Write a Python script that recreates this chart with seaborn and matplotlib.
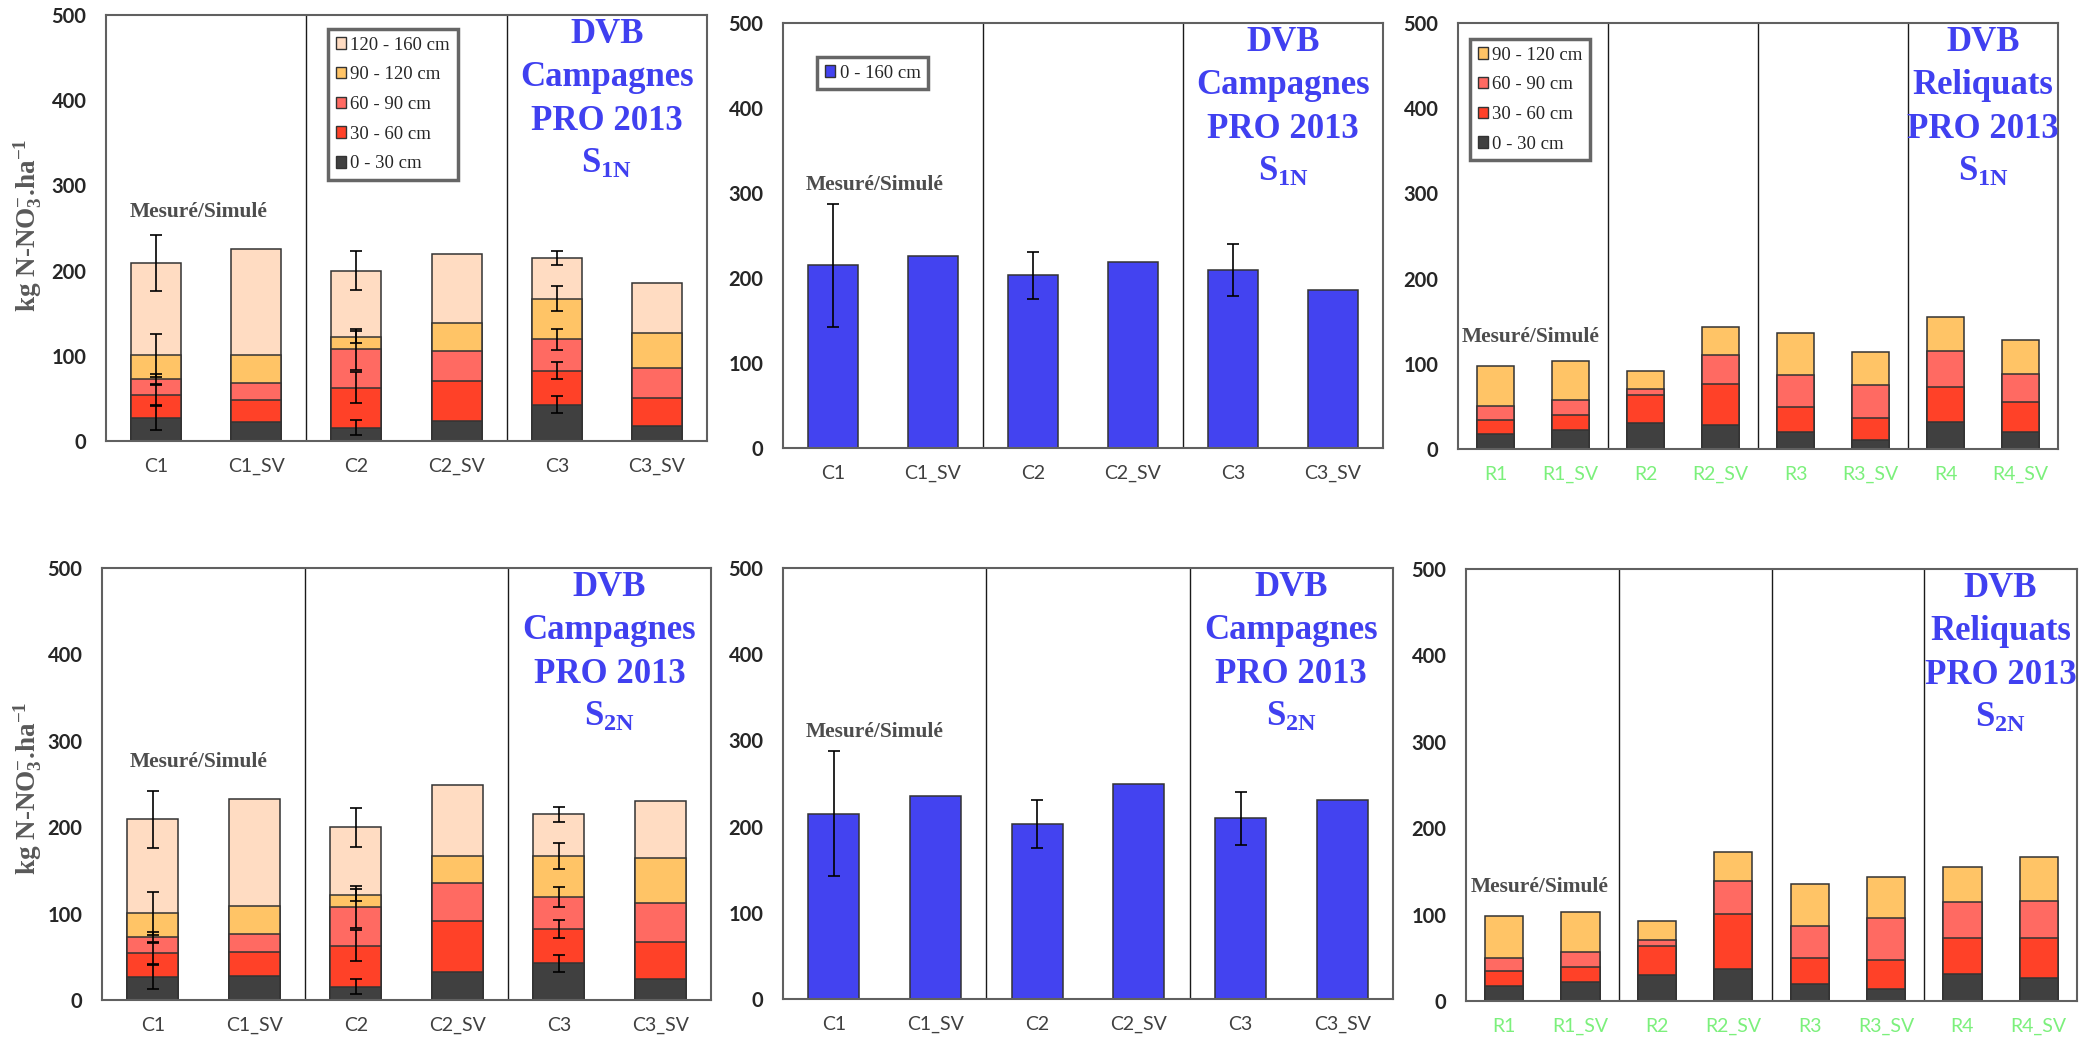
import numpy as np
import matplotlib
matplotlib.use("Agg")
import matplotlib.pyplot as plt
from matplotlib.patches import Patch
import seaborn as sns

sns.set_style("white")
plt.rcParams["font.family"] = ["Lato", "DejaVu Sans"]
plt.rcParams["mathtext.fontset"] = "custom"
plt.rcParams["mathtext.rm"] = "Liberation Serif:bold"
plt.rcParams["mathtext.bf"] = "Liberation Serif:bold"
plt.rcParams["mathtext.it"] = "Liberation Serif:bold"

# ---- Données ----
CAMP_CATS = ["C1", "C1_SV", "C2", "C2_SV", "C3", "C3_SV"]
RELIQ_CATS = ["R1", "R1_SV", "R2", "R2_SV", "R3", "R3_SV", "R4", "R4_SV"]
LAYERS = ["0 - 30 cm", "30 - 60 cm", "60 - 90 cm", "90 - 120 cm", "120 - 160 cm"]
LAYER_COLORS = ["#404040", "#FF4128", "#FF6A62", "#FFC466", "#FFDCC2"]
BLUE = "#4343F0"
MEAS_IDX_CAMP = [0, 2, 4]

# Campagnes : une liste par horizon (du bas vers le haut), kg N-NO3/ha
camp_s1n = [
    [26.6, 22.7, 15.6, 23.9, 42.3, 17.6],
    [27.4, 25.3, 47.0, 46.5, 39.9, 33.3],
    [18.8, 19.7, 45.0, 35.6, 37.1, 34.4],
    [27.7, 32.8, 14.1, 32.0, 47.7, 41.1],
    [108.8, 125.2, 78.3, 81.0, 47.8, 59.4],
]
camp_s2n = [
    [26.6, 28.1, 15.6, 32.0, 42.3, 23.9],
    [27.4, 27.8, 47.0, 59.7, 39.9, 43.6],
    [18.8, 20.0, 45.0, 44.0, 37.1, 45.1],
    [27.7, 32.8, 14.1, 31.3, 47.7, 52.0],
    [108.8, 124.5, 78.3, 82.4, 47.8, 65.9],
]
# écarts-types des mesures (C1, C2, C3) par horizon
camp_err = [
    [14, 9, 10],
    [12, 18, 10],
    [6, 24, 12],
    [25, 7, 15],
    [33, 22.5, 8.6],
]

# Total 0 - 160 cm
tot_s1n = [215.0, 225.5, 203.0, 218.8, 209.4, 185.9]
tot_s2n = [215.0, 235.0, 203.0, 249.8, 209.4, 230.9]
tot_err = [72.5, 28, 31]

# Reliquats : 4 horizons (0-30 ... 90-120)
reliq_s1n = [
    [17.2, 22.7, 30.6, 27.8, 20.0, 10.2, 31.7, 20.0],
    [17.3, 16.9, 32.5, 49.0, 29.4, 26.2, 41.2, 34.9],
    [15.7, 17.6, 7.8, 33.3, 37.2, 38.4, 41.9, 33.3],
    [47.8, 46.2, 21.2, 33.3, 49.0, 39.2, 40.4, 40.3],
]
reliq_s2n = [
    [17.2, 22.4, 30.6, 36.7, 20.0, 13.9, 31.7, 26.3],
    [17.3, 17.0, 32.5, 64.1, 29.4, 33.6, 41.2, 46.3],
    [15.7, 17.7, 7.8, 38.6, 37.2, 49.0, 41.9, 43.6],
    [47.8, 46.4, 21.2, 32.8, 49.0, 47.5, 40.4, 51.0],
]

W, H = 2092, 1047
fig = plt.figure(figsize=(W / 100, H / 100), dpi=100)


def px_axes(x0, x1, ytop, ybot):
    return fig.add_axes([x0 / W, 1 - ybot / H, (x1 - x0) / W, (ybot - ytop) / H])


def style_axes(ax, cats, green=False):
    n = len(cats)
    ax.set_xlim(-0.5, n - 0.5)
    ax.set_ylim(0, 500)
    ax.set_yticks(range(0, 501, 100))
    ax.set_yticklabels([str(v) for v in range(0, 501, 100)], fontweight="bold", fontsize=14.5)
    ax.set_xticks(range(n))
    ax.set_xticklabels(cats, fontsize=14, color="#7CF07C" if green else "#404040")
    ax.set_xticks(np.arange(-0.5, n, 2), minor=True)
    ax.tick_params(axis="x", which="major", length=0, pad=12)
    ax.tick_params(axis="x", which="minor", length=6, width=1.2, color="#606060", direction="out")
    ax.tick_params(axis="y", length=6, width=1.2, color="#606060", direction="out", pad=8)
    ax.set_xlabel("")
    ax.set_ylabel("")
    for b in np.arange(1.5, n - 1, 2):
        ax.axvline(b, color="#1a1a1a", lw=1, zorder=1)
    for s in ax.spines.values():
        s.set_visible(True)
        s.set_color("#606060")
        s.set_linewidth(1.5)


def stacked(ax, cats, layers, colors, err=None, meas=None):
    cum = np.cumsum(np.array(layers), axis=0)
    for k in range(len(layers) - 1, -1, -1):
        sns.barplot(x=cats, y=cum[k], color=colors[k], saturation=1, width=0.5,
                    edgecolor="#333333", linewidth=1.1, errorbar=None, ax=ax, zorder=2)
    if err is not None:
        for k in range(len(layers)):
            ax.errorbar(meas, cum[k][meas], yerr=err[k], fmt="none", ecolor="black",
                        elinewidth=1.2, capsize=4.5, capthick=1.2, zorder=4)


def totals(ax, cats, vals, err, meas):
    sns.barplot(x=cats, y=vals, color=BLUE, saturation=1, width=0.5,
                edgecolor="#333333", linewidth=1.1, errorbar=None, ax=ax, zorder=2)
    ax.errorbar(meas, np.array(vals)[meas], yerr=err, fmt="none", ecolor="black",
                elinewidth=1.2, capsize=4.5, capthick=1.2, zorder=4)


def title(ax, n, kind, sub):
    ax.text(n - 1.5, 497, "DVB\n" + kind + "\nPRO 2013\nS$_{\\mathrm{" + sub + "}}$",
            ha="center", va="top", multialignment="center", color="#4040F0",
            fontsize=25, fontweight="bold", family="Liberation Serif", linespacing=1.42, zorder=5)


def mesure(ax, x, y):
    ax.text(x, y, "Mesuré/Simulé", ha="center", va="center", color="#4d4d4d",
            fontsize=15.5, fontweight="bold", family="Liberation Serif", zorder=5)


def legend(ax, labels, colors, x0, y0):
    handles = [Patch(facecolor=c, edgecolor="#333333", linewidth=1) for c in colors]
    leg = ax.legend(handles, labels, loc="upper left", bbox_to_anchor=(x0 / W, 1 - y0 / H),
                    bbox_transform=fig.transFigure, borderaxespad=0, frameon=True, fancybox=False,
                    prop={"family": "Liberation Serif", "size": 13.5}, handlelength=0.55,
                    handleheight=0.55, handletextpad=0.25, labelspacing=0.68, borderpad=0.4)
    leg.get_frame().set_edgecolor("#404040")
    leg.get_frame().set_linewidth(2.5)
    leg.set_zorder(6)


rows = [
    dict(sub="1N", camp=camp_s1n, tot=tot_s1n, reliq=reliq_s1n,
         boxes=[(106, 707, 15, 441), (783, 1383, 23, 448), (1458, 2058, 23, 449)],
         mes=[(0.42, 269), (0.42, 310), (0.47, 131)], ylab_y=225),
    dict(sub="2N", camp=camp_s2n, tot=tot_s2n, reliq=reliq_s2n,
         boxes=[(102, 711, 568, 1000), (783, 1393, 568, 999), (1466, 2077, 569, 1001)],
         mes=[(0.45, 275), (0.40, 310), (0.47, 132)], ylab_y=788),
]

for r, row in enumerate(rows):
    ax1 = px_axes(*row["boxes"][0])
    stacked(ax1, CAMP_CATS, row["camp"], LAYER_COLORS, camp_err, MEAS_IDX_CAMP)
    style_axes(ax1, CAMP_CATS)
    title(ax1, len(CAMP_CATS), "Campagnes", row["sub"])
    mesure(ax1, *row["mes"][0])

    ax2 = px_axes(*row["boxes"][1])
    totals(ax2, CAMP_CATS, row["tot"], tot_err, MEAS_IDX_CAMP)
    style_axes(ax2, CAMP_CATS)
    title(ax2, len(CAMP_CATS), "Campagnes", row["sub"])
    mesure(ax2, *row["mes"][1])

    ax3 = px_axes(*row["boxes"][2])
    stacked(ax3, RELIQ_CATS, row["reliq"], LAYER_COLORS[:4])
    style_axes(ax3, RELIQ_CATS, green=True)
    title(ax3, len(RELIQ_CATS), "Reliquats", row["sub"])
    mesure(ax3, *row["mes"][2])

    if r == 0:
        legend(ax1, LAYERS[::-1], LAYER_COLORS[::-1], 328, 29)
        legend(ax2, ["0 - 160 cm"], [BLUE], 817, 57)
        legend(ax3, LAYERS[:4][::-1], LAYER_COLORS[:4][::-1], 1470, 39)

    fig.text(27 / W, 1 - row["ylab_y"] / H,
             "kg N-NO$_{3}^{-}$.ha$^{-1}$", rotation=90, ha="center", va="center",
             fontsize=19.5, fontweight="bold", family="Liberation Serif", color="#595959")

fig.savefig("out.png", dpi=100)
